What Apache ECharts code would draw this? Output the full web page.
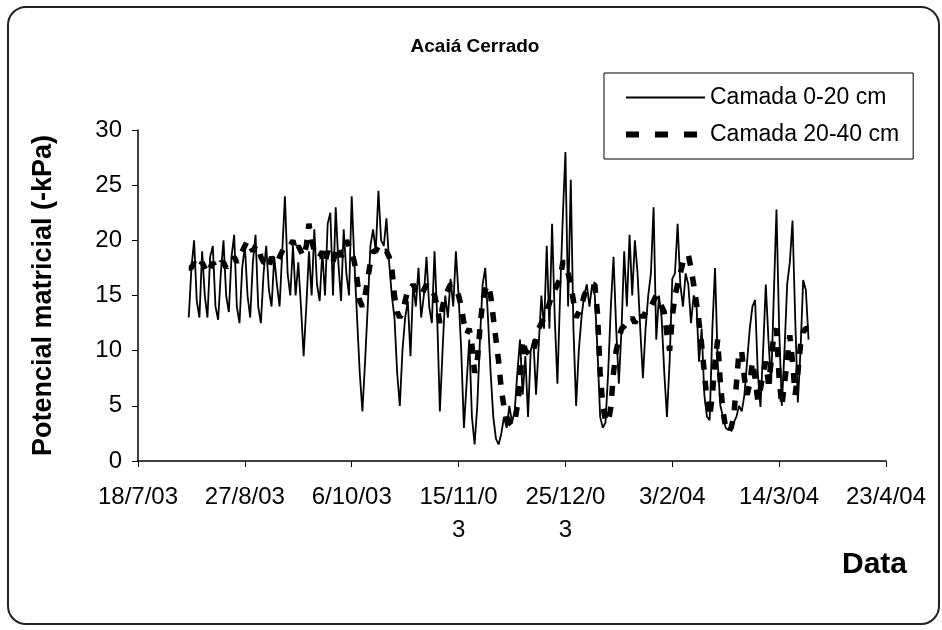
<!DOCTYPE html>
<html>
<head>
<meta charset="utf-8">
<title>Acaiá Cerrado</title>
<script src="https://cdn.jsdelivr.net/npm/echarts@6/dist/echarts.min.js"></script>
<style>
  html, body { margin: 0; padding: 0; background: #fff; }
  #chart { width: 942px; height: 630px; }
</style>
</head>
<body>
<div id="chart"></div>
<script>
// dias contados a partir de 18/7/03 (eixo x)
var firstDay = 19;
var xLabels = ['18/7/03', '27/8/03', '6/10/03', '15/11/0\n3', '25/12/0\n3', '3/2/04', '14/3/04', '23/4/04'];
var seriesNames = ['Camada 0-20 cm', 'Camada 20-40 cm'];

// Camada 0-20 cm, um valor por dia
var camada020 = [
  13, 17.5, 20, 14.5, 13, 19, 15, 13, 18.5, 19.5,
  14, 12.8, 17, 20, 15, 13.5, 18.5, 20.5, 14, 12.5,
  17.5, 19.5, 15, 13, 18, 20.5, 14, 12.5, 17, 19.5,
  15.5, 14, 18.5, 16, 14, 19, 24, 17, 15, 19.5,
  15, 18, 14, 9.5, 14, 19, 15, 21, 16, 14.5,
  19, 15, 21.5, 22.5, 15, 23, 18, 14.5, 21, 17,
  15, 24, 18, 13, 8, 4.5, 9, 14, 19.5, 21,
  19, 24.5, 20, 19.5, 22, 18, 15, 13, 8, 5,
  10, 13, 14.5, 9.5, 16, 14, 17.5, 13, 15, 18.5,
  14, 12.5, 19, 13, 4.5, 10, 15, 13, 16.5, 14,
  19, 15, 10, 3, 7, 11, 4, 1.5, 5, 11,
  16, 17.5, 13, 8, 4, 2, 1.5, 2.5, 4, 3,
  5, 3.5, 4.5, 8, 11, 6, 9.5, 4, 10, 11,
  6, 10.5, 15, 12, 19.5, 12, 21.5, 13, 7, 15,
  22, 28, 14, 25.5, 12, 5, 10, 13, 15, 16,
  14, 16, 15, 10, 4, 3, 3.5, 8, 14, 18.5,
  12, 7, 12, 19, 14, 20.5, 15, 20, 17, 12,
  7.5, 12, 15, 17, 23, 11, 15, 13, 8, 4,
  9, 16.5, 17, 21.5, 16, 14, 17, 16, 12.5, 15,
  14.5, 9, 12, 6, 4, 3.7, 12, 17.5, 9, 5,
  4, 3, 2.8, 3, 3.5, 4, 5, 4.5, 6, 9,
  12, 14, 14.6, 8, 4.9, 10, 16, 11, 7, 15,
  22.8, 12, 5, 10, 16, 18, 21.8, 13, 5.3, 10,
  16.4, 15.5, 11
];

// Camada 20-40 cm
var camada2040 = [
  17.5, 17.5, 18, 17.5, 17.5, 18, 17.5, 17, 17.5, 18,
  17.5, 17.5, 18, 18, 17.5, 18, 18, 18.5, 18, 18.5,
  19, 19.5, 20, 19.5, 19, 19.5, 19.5, 18.5, 18, 18,
  17.5, 18.5, 18, 18, 18.5, 19, 19.5, 19.5, 19.5, 20,
  19, 19.5, 19, 18.5, 19.5, 21.5, 20, 19, 18.5, 18.5,
  19, 18, 19, 18.5, 18, 19, 19.5, 18.5, 19, 20,
  19.5, 19, 18, 16.5, 14.5, 14, 15, 16.5, 18, 19,
  19, 19.5, 19, 19, 19, 18.5, 17.5, 15, 13.5, 13,
  13.5, 14.5, 15.5, 15.5, 16, 15.5, 15.5, 15, 15.5, 16,
  15.5, 15.5, 15, 14, 12.5, 14, 15, 15.5, 16, 16,
  15.5, 15, 14, 12.5, 11.5, 12, 10.5, 8, 9, 12,
  14.5, 15.5, 16, 15, 13, 11, 9, 6.5, 4.9, 4,
  3.5, 3.2, 3.5, 5, 7, 11, 10, 9.8, 9.5, 10,
  11, 12, 12.5, 13, 13.5, 14.3, 15, 15.5, 16, 16.5,
  18, 18, 17, 16, 14.5, 13, 13.5, 14, 15, 15.5,
  15.8, 16, 16, 13.4, 8, 5, 3.7, 3.5, 4.9, 8,
  10, 11, 12, 12.2, 12.5, 12.5, 13, 12.5, 13, 13.5,
  13, 13.5, 14, 14, 14.5, 15, 14.5, 14, 13.5, 11.5,
  10, 13, 15, 16, 17, 18, 18.5, 18.7, 17.5, 16,
  14.4, 12.6, 10.5, 8, 5.5, 4, 6, 9, 11, 7,
  4.5, 3, 2.6, 3, 4, 7, 10, 9.9, 7.5, 6,
  7, 9, 7.5, 5.5, 6.5, 8, 9, 7, 9, 11.5,
  12, 7.5, 5, 7, 9, 11.4, 9, 6, 8, 10.5,
  11.7, 12, 12
];

var toPairs = function (values) {
  var out = [];
  values.forEach(function (v, i) {
    out.push([firstDay + i, v]);
  });
  return out;
};

var myChart = echarts.init(document.getElementById('chart'));
var font = 'Arial, "Liberation Sans", sans-serif';

var option = {
  animation: false,
  backgroundColor: '#fff',
  textStyle: { fontFamily: font, color: '#000' },
  title: {
    text: 'Acaiá Cerrado',
    left: 470,
    textAlign: 'center',
    top: 32,
    textStyle: { fontFamily: font, fontSize: 19, fontWeight: 'bold', color: '#000' }
  },
  legend: {
    orient: 'vertical',
    left: 604,
    top: 73,
    padding: [13, 14, 13, 19],
    itemGap: 14,
    itemWidth: 79,
    itemHeight: 20,
    borderColor: '#000',
    borderWidth: 1,
    // esconde o circulo que o echarts desenha no meio do icone
    itemStyle: { opacity: 0 },
    textStyle: { fontFamily: font, fontSize: 23, color: '#000' },
    data: [
      { name: seriesNames[0], lineStyle: { width: 2 } },
      { name: seriesNames[1], lineStyle: { width: 6, type: [13, 16], cap: 'butt' } }
    ]
  },
  grid: { left: 138, right: 56, top: 130, bottom: 169 },
  xAxis: {
    type: 'value',
    min: 0,
    max: 280,
    interval: 40,
    splitLine: { show: false },
    axisLine: { lineStyle: { color: '#000', width: 1.5 } },
    axisTick: { length: 6, lineStyle: { color: '#000' } },
    axisLabel: {
      margin: 20,
      fontSize: 24,
      lineHeight: 33,
      color: '#000',
      showMinLabel: true,
      showMaxLabel: true,
      formatter: function (v) { return xLabels[Math.round(v / 40)]; }
    }
  },
  yAxis: {
    type: 'value',
    min: 0,
    max: 30,
    interval: 5,
    name: 'Potencial matricial (-kPa)',
    nameLocation: 'middle',
    nameGap: 81,
    nameTextStyle: { fontFamily: font, fontSize: 27, fontWeight: 'bold', color: '#000' },
    splitLine: { show: false },
    axisLine: { show: true, lineStyle: { color: '#000', width: 1.5 } },
    axisTick: { show: true, length: 6, lineStyle: { color: '#000' } },
    axisLabel: { margin: 16, fontSize: 24, color: '#000' }
  },
  graphic: [
    {
      type: 'rect',
      shape: { x: 8, y: 7, width: 931, height: 617, r: 18 },
      style: { fill: 'none', stroke: '#222', lineWidth: 2 }
    },
    {
      type: 'text',
      left: 842,
      top: 550,
      style: { text: 'Data', fontFamily: font, fontSize: 30, fontWeight: 'bold', fill: '#000' }
    }
  ],
  series: [
    {
      name: seriesNames[0],
      type: 'line',
      symbol: 'none',
      showSymbol: false,
      data: toPairs(camada020),
      lineStyle: { color: '#000', width: 1.8 },
      itemStyle: { color: '#000' }
    },
    {
      name: seriesNames[1],
      type: 'line',
      symbol: 'none',
      showSymbol: false,
      data: toPairs(camada2040),
      lineStyle: { color: '#000', width: 5.5, type: [10, 11], cap: 'butt' },
      itemStyle: { color: '#000' }
    }
  ]
};
myChart.setOption(option);
window.addEventListener('resize', function () {
  myChart.resize();
});
</script>
</body>
</html>
